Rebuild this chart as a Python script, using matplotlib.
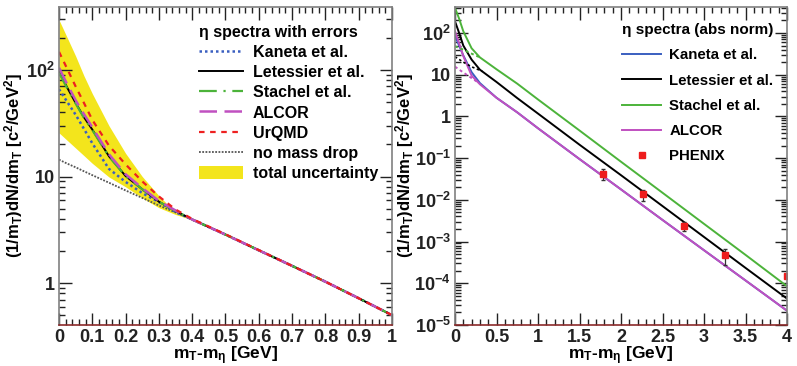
import matplotlib
matplotlib.use("Agg")
import matplotlib.pyplot as plt
import numpy as np
from matplotlib.ticker import FixedLocator, FuncFormatter, MultipleLocator, NullFormatter
from matplotlib.patches import Patch
from matplotlib.lines import Line2D

plt.rcParams['font.family'] = ['Liberation Sans', 'DejaVu Sans']
plt.rcParams['font.weight'] = 'bold'
plt.rcParams['mathtext.fontset'] = 'custom'
plt.rcParams['mathtext.rm'] = 'Liberation Sans:bold'
plt.rcParams['mathtext.it'] = 'Liberation Sans:bold'
plt.rcParams['mathtext.bf'] = 'Liberation Sans:bold'

# ---- left panel: eta spectra with errors
x_left = [0, 0.025, 0.05, 0.075, 0.1, 0.15, 0.2, 0.25, 0.3, 0.35, 0.4, 0.5, 0.6, 0.7, 0.8, 0.9, 1.0]
kaneta_l = [66, 50, 38, 28, 20.5, 11.8, 8.9, 7.0, 5.75, 4.65, 3.95, 2.85, 2.03, 1.45, 1.03, 0.72, 0.50]
letessier_l = [97, 68, 49, 36, 27.6, 15.5, 10.1, 7.6, 5.8, 4.75, 3.95, 2.85, 2.03, 1.45, 1.03, 0.72, 0.50]
stachel_l = [94, 67, 48.5, 35.5, 27.3, 15.4, 10.1, 7.6, 5.8, 4.75, 3.95, 2.85, 2.03, 1.45, 1.03, 0.72, 0.50]
alcor_l = [105, 73, 52, 38.5, 29, 16.2, 10.5, 7.8, 5.9, 4.8, 3.95, 2.85, 2.03, 1.45, 1.03, 0.72, 0.50]
urqmd_l = [148, 102, 70, 49, 34, 19.5, 13, 9, 6.5, 4.9, 4.0, 2.87, 2.04, 1.45, 1.03, 0.72, 0.50]
nodrop_l = [14.4, 13.2, 12.2, 11.2, 10.3, 8.75, 7.4, 6.3, 5.35, 4.6, 3.95, 2.85, 2.03, 1.45, 1.03, 0.72, 0.50]
band_hi = [295, 200, 135, 88, 60, 30, 16.5, 10, 6.6, 4.6, 4.0, 2.88, 2.05, 1.46, 1.04, 0.73, 0.505]
band_lo = [25.7, 21.8, 18.5, 15.7, 13.3, 9.9, 8.0, 6.3, 5.1, 4.4, 3.92, 2.83, 2.01, 1.44, 1.02, 0.71, 0.495]

# ---- right panel: eta spectra (abs norm)
x_right = [0, 0.05, 0.1, 0.2, 0.3, 0.5, 0.75, 1.0, 1.5, 2.0, 2.5, 3.0, 3.5, 4.0]
kaneta_r = [85, 50, 29, 11.5, 6.3, 2.8, 1.25, 0.52, 0.095, 0.0178, 3.3e-3, 6.2e-4, 1.17e-4, 2.2e-5]
letessier_r = [190, 100, 50, 23, 13.2, 6.7, 2.75, 1.17, 0.21, 0.039, 7.1e-3, 1.29e-3, 2.34e-4, 4.3e-5]
stachel_r = [400, 220, 110, 43, 26, 13.5, 6.1, 2.55, 0.46, 0.082, 0.0148, 2.66e-3, 4.8e-4, 8.5e-5]
alcor_r = [110, 56, 28, 9.5, 5.9, 2.8, 1.25, 0.52, 0.095, 0.0178, 3.3e-3, 6.2e-4, 1.17e-4, 2.2e-5]

# no-mass-drop (dotted) variants at low mT
x_stachel_nd = [0, 0.1, 0.2, 0.3]
stachel_nd = [48, 40, 32, 26]
x_letessier_nd = [0, 0.1, 0.2, 0.33]
letessier_nd = [27, 20, 15.5, 12]
x_alcor_nd = [0, 0.1, 0.2, 0.27]
alcor_nd = [15.6, 11.3, 8.3, 6.7]

phenix_x = [1.78, 2.27, 2.76, 3.25, 4.0]
phenix_y = [0.0417, 0.0135, 2.34e-3, 4.7e-4, 1.5e-4]
phenix_lo = [0.0292, 0.0094, 1.75e-3, 2.7e-4, 1.4e-4]
phenix_hi = [0.0546, 0.0177, 3.0e-3, 6.8e-4, 1.6e-4]

c_blue = '#3a5fc0'
c_green = '#4cb33a'
c_mag = '#c050c0'
c_red = '#ee2020'
c_yel = '#f3e51c'

ylab = r'(1/m$_\mathrm{T}$)dN/dm$_\mathrm{T}$ [c$^2$/GeV$^2$]'
xlab = r'm$_\mathrm{T}$-m$_\eta$ [GeV]'


def log_fmt(v, pos):
    if v <= 0:
        return ''
    e = int(round(np.log10(v)))
    if e == 0:
        return '1'
    if e == 1:
        return '10'
    return '10$^{%d}$' % e


def style_axes(ax):
    # log axis with only in-range ticks
    ax.set_yscale('log')
    lo, hi = ax.get_ylim()
    e0, e1 = int(np.floor(np.log10(lo))), int(np.ceil(np.log10(hi)))
    majors = [10.0 ** e for e in range(e0, e1 + 1) if lo <= 10.0 ** e <= hi]
    minors = [m * 10.0 ** e for e in range(e0, e1 + 1) for m in range(2, 10) if lo <= m * 10.0 ** e <= hi]
    ax.yaxis.set_major_locator(FixedLocator(majors))
    ax.yaxis.set_minor_locator(FixedLocator(minors))
    ax.yaxis.set_major_formatter(FuncFormatter(log_fmt))
    ax.yaxis.set_minor_formatter(NullFormatter())
    ax.tick_params(which='both', direction='in', top=True, right=True, colors='#222222',
                   labelsize=13, width=1.0)
    ax.tick_params(which='major', length=9, pad=3)
    ax.tick_params(which='minor', length=4.5)
    for s in ax.spines.values():
        s.set_color('#808080')
        s.set_linewidth(1.2)
    ax.spines['bottom'].set_color('#8b2a2a')


fig = plt.figure(figsize=(7.97, 3.66), dpi=100)
ax1 = fig.add_axes([59 / 797, 41 / 366, 333 / 797, 318 / 366])
ax2 = fig.add_axes([455 / 797, 41 / 366, 332 / 797, 318 / 366])

# left
ax1.fill_between(x_left, band_lo, band_hi, color=c_yel, lw=0, label='total uncertainty')
ax1.plot(x_left, nodrop_l, color='#555555', lw=1.3, ls=(0, (1, 0.8)), label='no mass drop')
ax1.plot(x_left, kaneta_l, color=c_blue, lw=1.8, ls=(0, (1, 1.2)), label='Kaneta et al.')
ax1.plot(x_left, letessier_l, color='black', lw=1.4, label='Letessier et al.')
ax1.plot(x_left, stachel_l, color=c_green, lw=1.6, ls=(0, (8, 3, 1, 3)), label='Stachel et al.')
ax1.plot(x_left, alcor_l, color=c_mag, lw=1.8, ls=(0, (7, 3)), label='ALCOR')
ax1.plot(x_left, urqmd_l, color=c_red, lw=1.6, ls=(0, (2.5, 2.5)), label='UrQMD')
ax1.set_xlim(0, 1)
ax1.set_ylim(0.404, 390)
style_axes(ax1)
ax1.set_xticks(np.round(np.arange(0, 1.001, 0.1), 2))
ax1.set_xticks(np.round(np.arange(0, 1.001, 0.02), 2), minor=True)
ax1.xaxis.set_major_formatter(FuncFormatter(lambda v, p: '0' if abs(v) < 1e-9 else ('1' if abs(v - 1) < 1e-9 else ('%.1f' % v))))
ax1.set_xlabel(xlab, fontsize=12.5, fontweight='bold', labelpad=-1)
ax1.set_ylabel(ylab, fontsize=12, fontweight='bold', labelpad=1)

h1 = [Line2D([], [], color=c_blue, lw=1.8, ls=(0, (1, 1.2))),
      Line2D([], [], color='black', lw=1.4),
      Line2D([], [], color=c_green, lw=1.6, ls=(0, (8, 3, 1, 3))),
      Line2D([], [], color=c_mag, lw=1.8, ls=(0, (7, 3))),
      Line2D([], [], color=c_red, lw=1.6, ls=(0, (2.5, 2.5))),
      Line2D([], [], color='#555555', lw=1.3, ls=(0, (1, 0.8))),
      Patch(facecolor=c_yel, edgecolor='none')]
l1 = ['Kaneta et al.', 'Letessier et al.', 'Stachel et al.', 'ALCOR', 'UrQMD', 'no mass drop', 'total uncertainty']
leg1 = ax1.legend(h1, l1, title='\u03b7 spectra with errors', loc='upper left',
                  bbox_to_anchor=(0.4, 0.965), frameon=False, fontsize=11.5,
                  title_fontsize=11.5, handlelength=2.8, handleheight=0.9, handletextpad=0.6,
                  labelspacing=0.32, borderaxespad=0, alignment='left')
leg1.get_title().set_fontweight('bold')

# right
ax2.plot(x_right, kaneta_r, color=c_blue, lw=1.4, label='Kaneta et al.')
ax2.plot(x_right, alcor_r, color=c_mag, lw=1.4, label='ALCOR')
ax2.plot(x_right, letessier_r, color='black', lw=1.4, label='Letessier et al.')
ax2.plot(x_right, stachel_r, color=c_green, lw=1.4, label='Stachel et al.')
ax2.plot(x_alcor_nd, alcor_nd, color=c_mag, lw=1.4, ls=(0, (1.5, 1.5)))
ax2.plot(x_letessier_nd, letessier_nd, color='black', lw=1.2, ls=(0, (1.5, 1.5)))
ax2.plot(x_stachel_nd, stachel_nd, color=c_green, lw=1.4, ls=(0, (1.5, 1.5)))
yerr = [np.array(phenix_y) - np.array(phenix_lo), np.array(phenix_hi) - np.array(phenix_y)]
ax2.errorbar(phenix_x, phenix_y, yerr=yerr, fmt='none', ecolor='#333333', elinewidth=0.9, capsize=1.5)
ax2.plot(phenix_x, phenix_y, ls='none', marker='s', ms=5, color='#ee1c1c', label='PHENIX')
ax2.set_xlim(0, 4)
ax2.set_ylim(1e-5, 420)
style_axes(ax2)
ax2.set_xticks(np.round(np.arange(0, 4.001, 0.5), 2))
ax2.set_xticks(np.round(np.arange(0, 4.001, 0.1), 2), minor=True)
ax2.xaxis.set_major_formatter(FuncFormatter(lambda v, p: ('%d' % v) if abs(v - round(v)) < 1e-9 else ('%.1f' % v)))
ax2.set_xlabel(xlab, fontsize=12.5, fontweight='bold', labelpad=-1)
ax2.set_ylabel(ylab, fontsize=12, fontweight='bold', labelpad=-1)

h2 = [Line2D([], [], color=c_blue, lw=1.4),
      Line2D([], [], color='black', lw=1.4),
      Line2D([], [], color=c_green, lw=1.4),
      Line2D([], [], color=c_mag, lw=1.4),
      Line2D([], [], ls='none', marker='s', ms=4, color='#ee1c1c')]
l2 = ['Kaneta et al.', 'Letessier et al.', 'Stachel et al.', 'ALCOR', 'PHENIX']
leg2 = ax2.legend(h2, l2, title='\u03b7 spectra (abs norm)', loc='upper left',
                  bbox_to_anchor=(0.485, 0.968), frameon=False, fontsize=10.8,
                  title_fontsize=11, handlelength=2.6, handletextpad=0.55,
                  labelspacing=0.75, borderaxespad=0, alignment='left')
leg2.get_title().set_fontweight('bold')

fig.savefig('out.png', dpi=100)
